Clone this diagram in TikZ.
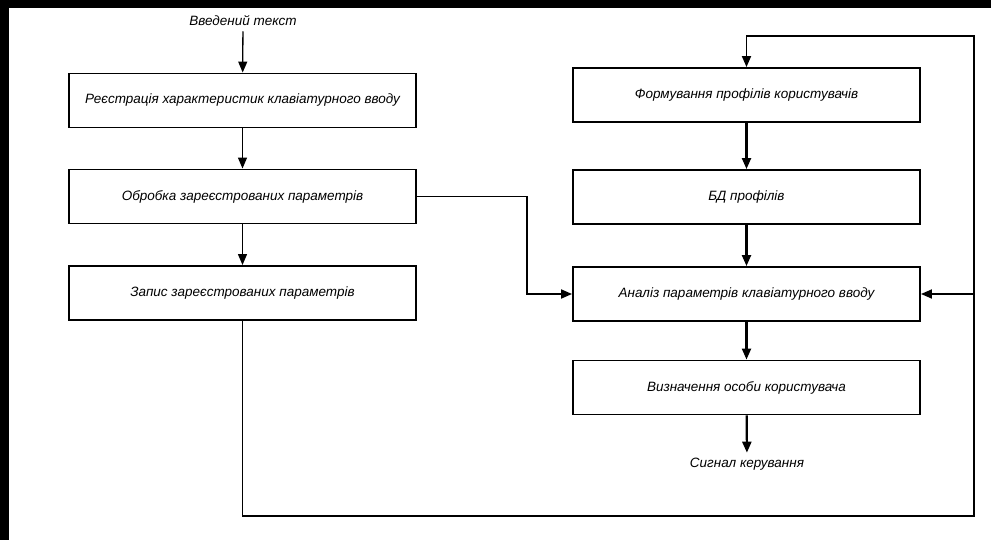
\documentclass[tikz,border=0pt]{standalone}
\usepackage{fontspec}
\setmainfont{Liberation Sans}
\usetikzlibrary{arrows.meta, positioning, calc}

\begin{document}
\begin{tikzpicture}[x=1pt,y=-1pt,
    blok/.style={draw, line width=1.9pt, minimum width=347pt, minimum height=54pt,
      inner sep=0pt, font=\itshape\fontsize{13.5}{16}\selectfont},
    napys/.style={inner sep=5pt, font=\itshape\fontsize{13.5}{16}\selectfont},
    strilka/.style={-{Triangle[length=11pt,width=9pt]}, line width=1.3pt},
    tovsta/.style={-{Triangle[length=11pt,width=9pt]}, line width=2.2pt}]
  % tlo z chornoiu ramkoiu zverkhu i zliva
  \fill[black] (0,0) rectangle (991,540);
  \fill[white] (9,8) rectangle (991,540);
  % liva kolonka
  \node[napys] (vhid) at (243,21) {Введений текст};
  \node[blok] (reg) at (242.5,100.5) {Реєстрація характеристик клавіатурного вводу};
  \node[blok] (obr) at (242.5,196.5) {Обробка зареєстрованих параметрів};
  \node[blok] (zap) at (242.5,293) {Запис зареєстрованих параметрів};
  % prava kolonka
  \node[blok] (form) at (746.5,95) {Формування профілів користувачів};
  \node[blok] (bd) at (746.5,197) {БД профілів};
  \node[blok] (anal) at (746.5,294) {Аналіз параметрів клавіатурного вводу};
  \node[blok] (vyzn) at (746.5,387.5) {Визначення особи користувача};
  \node[napys] (syhnal) at (747,464) {Сигнал керування};
  % tochky zlamu
  \coordinate (zlam) at (527,0);
  \coordinate (pravo) at (974,516);
  \coordinate (verh) at (974,36);
  \draw[strilka] (vhid) -- (reg);
  \draw[strilka] (reg) -- (obr);
  \draw[strilka] (obr) -- (zap);
  \draw[strilka, line width=1.8pt] (obr.east) -- (obr.east -| zlam) |- (anal.west);
  \draw[tovsta] (form) -- (bd);
  \draw[tovsta] (bd) -- (anal);
  \draw[tovsta] (anal) -- (vyzn);
  \draw[tovsta] (vyzn) -- (syhnal);
  % zvorotnyi zviazok
  \draw[strilka, line width=1.8pt] (zap.south) |- (pravo) -- (pravo |- verh) -| (form.north);
  \draw[strilka, line width=1.8pt] (pravo |- anal.east) -- (anal.east);
\end{tikzpicture}
\end{document}
